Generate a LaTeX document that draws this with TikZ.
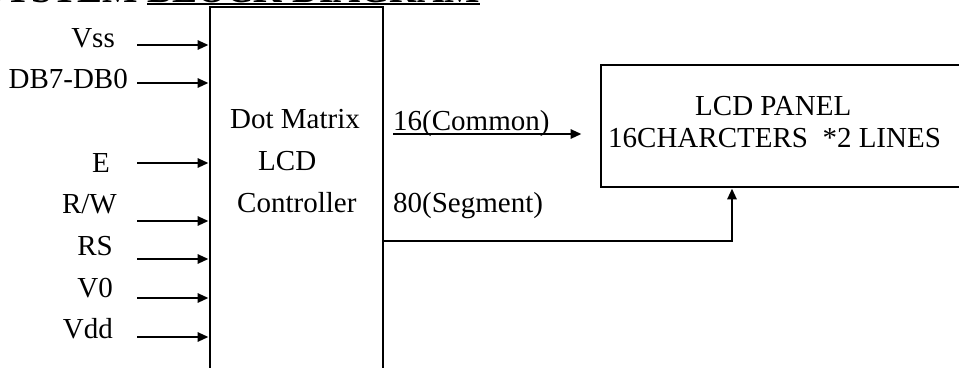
\documentclass[tikz,border=0pt]{standalone}
\usepackage{fontspec}
\setmainfont{Liberation Serif}
\usetikzlibrary{arrows.meta}

\tikzset{
  wire/.style={line width=2.7pt},
  arr/.style={wire, -{Triangle[length=11pt,width=9pt]}},
  block/.style={draw, line width=2.8pt, rectangle, inner sep=0pt},
  lbl/.style={inner sep=0pt, font=\fontsize{29}{34}\selectfont},
  ttl/.style={inner sep=0pt, font=\fontsize{37.5}{44}\selectfont\bfseries},
}

\begin{document}
\begin{tikzpicture}[x=1pt, y=-1pt]
  \clip (0,0) rectangle (959,367);
  \fill[white] (0,0) rectangle (959,367);

  % heading, only its lower edge shows above the blocks
  \node[ttl, anchor=base east] (ttlA) at (138,2.7) {SYSTEM};
  \node[ttl, anchor=base west] (ttlB) at (147,2.7) {BLOCK DIAGRAM};
  \draw[line width=1.8pt] ([yshift=-1.5pt]ttlB.base west) -- ([yshift=-1.5pt]ttlB.base east);

  % controller block (runs past the lower edge)
  \node[block, minimum width=173pt, minimum height=380pt] (ctrl) at (296.5,197) {};
  \node[lbl, anchor=base west] (ct1) at (230,128) {Dot Matrix};
  \node[lbl, anchor=base west] (ct2) at (258,170) {LCD};
  \node[lbl, anchor=base west] (ct3) at (237,212) {Controller};

  % LCD panel (runs past the right edge)
  \node[block, minimum width=420pt, minimum height=122pt] (panel) at (811,126) {};
  \node[lbl, anchor=base west] (pn1) at (695,115) {LCD PANEL};
  \node[lbl, anchor=base west] (pn2) at (608,147) {16CHARCTERS\ \ *2 LINES};

  % input signals
  \node[lbl, anchor=base east] (lVss) at (115,47)  {Vss};
  \node[lbl, anchor=base east] (lDB)  at (128,88)  {DB7-DB0};
  \node[lbl, anchor=base east] (lE)   at (110,172) {E};
  \node[lbl, anchor=base east] (lRW)  at (117,213) {R/W};
  \node[lbl, anchor=base east] (lRS)  at (113,255) {RS};
  \node[lbl, anchor=base east] (lV0)  at (113,297) {V0};
  \node[lbl, anchor=base east] (lVdd) at (113,338) {Vdd};

  \coordinate (iVss) at (137,45);
  \coordinate (iDB)  at (137,83);
  \coordinate (iE)   at (137,163);
  \coordinate (iRW)  at (137,221);
  \coordinate (iRS)  at (137,259);
  \coordinate (iV0)  at (137,298);
  \coordinate (iVdd) at (137,337);
  \foreach \s in {iVss,iDB,iE,iRW,iRS,iV0,iVdd}
    \draw[arr] (\s) -- (\s -| ctrl.west);

  % common lines
  \node[lbl, anchor=base west] (lCom) at (393,130) {16(Common)};
  \coordinate (oCom) at (393,134);
  \draw[arr] (oCom) -- ([xshift=-18pt]oCom -| panel.west);

  % segment lines
  \node[lbl, anchor=base west] (lSeg) at (393,212) {80(Segment)};
  \coordinate (oSeg) at (383,241);
  \coordinate (kSeg) at (732,241);
  \draw[arr] (oSeg -| ctrl.east) -- (kSeg) -- (kSeg |- panel.south);
\end{tikzpicture}
\end{document}
